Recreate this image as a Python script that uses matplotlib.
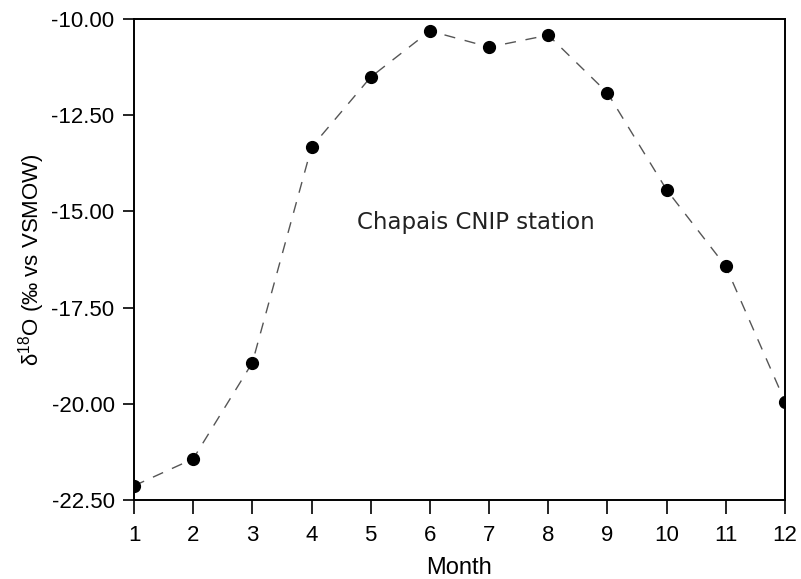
import numpy as np
import matplotlib
matplotlib.use("Agg")
import matplotlib.pyplot as plt

plt.rcParams['font.family'] = ['Liberation Sans', 'DejaVu Sans']
plt.rcParams['mathtext.fontset'] = 'custom'
plt.rcParams['mathtext.rm'] = 'Liberation Sans'

# monthly d18O values
month = np.arange(1, 13)
d18o = np.array([-22.13, -21.43, -18.93, -13.33, -11.51, -10.31,
                 -10.73, -10.42, -11.92, -14.44, -16.43, -19.94])
yticks = [-22.5, -20.0, -17.5, -15.0, -12.5, -10.0]

fig = plt.figure(figsize=(8.01, 5.79), dpi=100)
ax = fig.add_axes([0.1673, 0.1364, 0.8127, 0.8308])

ax.plot(month, d18o, color="#555555", lw=1.0, dashes=(8, 7), zorder=1)
ax.plot(month, d18o, "o", color="black", ms=8.5, zorder=2)

ax.set_xlim(1, 12)
ax.set_ylim(-22.5, -10)
ax.set_xticks(month)
ax.set_yticks(yticks)
ax.set_yticklabels(["%.2f" % v for v in yticks])

for s in ax.spines.values():
    s.set_linewidth(1.4)
ax.tick_params(axis="y", direction="out", length=8, width=1.2, pad=6, labelsize=16)
ax.tick_params(axis="x", direction="out", length=10, width=1.2, pad=8, labelsize=16)

ax.set_xlabel("Month", fontsize=17, labelpad=8)
ax.set_ylabel(r"δ$^{18}$O (‰ vs VSMOW)", fontsize=16, labelpad=3)

ax.text(6.77, -15.3, "Chapais CNIP station", fontsize=16.5, ha="center", va="center",
        family="DejaVu Sans", color="#222222")

fig.savefig("out.png", dpi=100)
